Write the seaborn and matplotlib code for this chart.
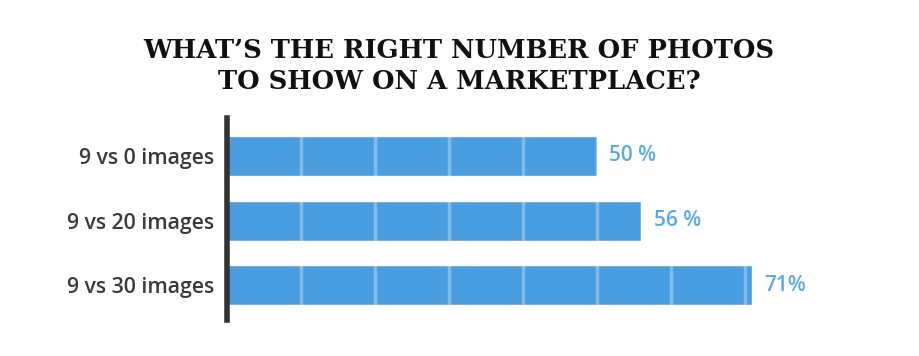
import numpy as np
import pandas as pd
import matplotlib.pyplot as plt
import seaborn as sns

# data
comparisons = ["9 vs 0 images", "9 vs 20 images", "9 vs 30 images"]
lift = [50, 56, 71]
lift_labels = ["50 %", "56 %", "71%"]

BLUE = "#4a9ee0"
LABEL_BLUE = "#5aaae6"
DARK = "#333333"


def main():
    sns.set_style("white")
    df = pd.DataFrame({"comparison": comparisons, "lift": lift})

    fig = plt.figure(figsize=(9.2, 3.56), dpi=100)
    ax = fig.add_axes([0.2467, 0.101, 0.643, 0.568])

    sns.barplot(data=df, y="comparison", x="lift", orient="h", color=BLUE,
                saturation=1, width=0.62, ax=ax, zorder=2)

    # faint grid lines that only show over the bars
    for g in range(10, 80, 10):
        ax.axvline(g, color="white", alpha=0.3, lw=2.5, zorder=3)

    for i, (v, s) in enumerate(zip(lift, lift_labels)):
        ax.text(v + 1.7, i, s, va="center", ha="left", color=LABEL_BLUE,
                fontsize=15, family="Open Sans", fontweight="semibold")

    ax.set_xlim(0, 80)
    ax.set_ylim(2.54, -0.59)
    ax.set_xlabel("")
    ax.set_ylabel("")
    ax.set_xticks([])
    ax.tick_params(axis="y", length=0, pad=9)
    for lbl in ax.get_yticklabels():
        lbl.set_family("Open Sans")
        lbl.set_fontsize(15.3)
        lbl.set_fontweight("semibold")
        lbl.set_color("#3a3a3a")

    for side in ["top", "right", "bottom"]:
        ax.spines[side].set_visible(False)
    ax.spines["left"].set_linewidth(4)
    ax.spines["left"].set_color(DARK)
    ax.spines["left"].set_zorder(4)

    fig.text(0.499, 0.815, "WHAT\u2019S THE RIGHT NUMBER OF PHOTOS\nTO SHOW ON A MARKETPLACE?",
             ha="center", va="center", fontsize=18.5, fontweight="bold",
             family="DejaVu Serif", color="#111111", linespacing=1.3)

    fig.savefig("out.png", dpi=100, facecolor="white")


if __name__ == "__main__":
    main()
